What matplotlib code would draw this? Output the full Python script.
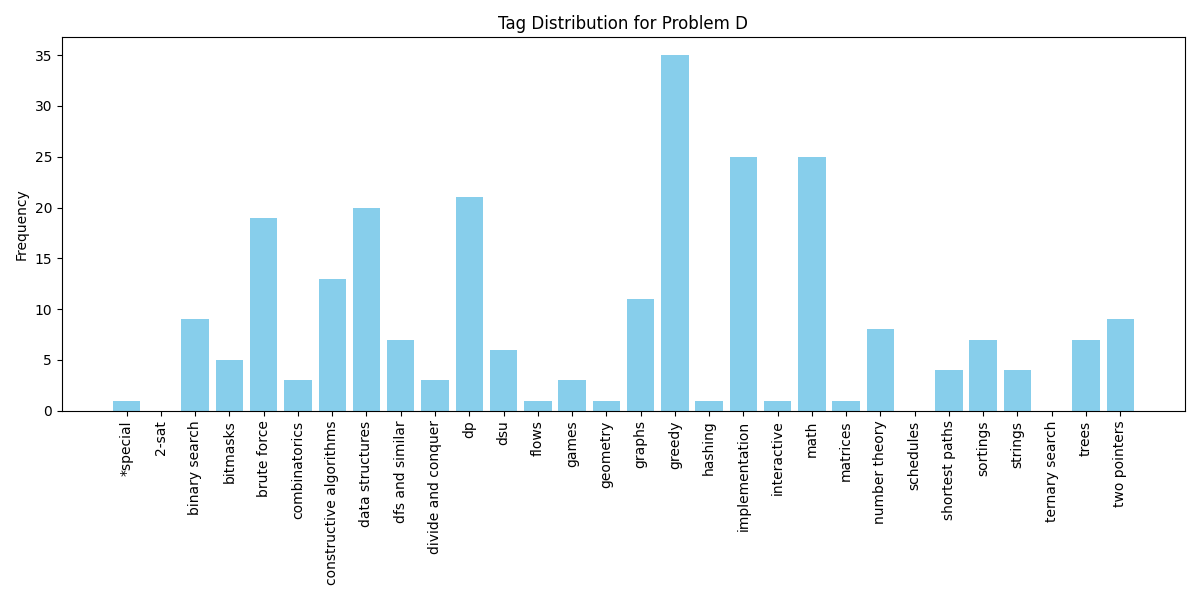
import matplotlib
matplotlib.use("Agg")
import matplotlib.pyplot as plt

tags = ["*special", "2-sat", "binary search", "bitmasks", "brute force",
        "combinatorics", "constructive algorithms", "data structures",
        "dfs and similar", "divide and conquer", "dp", "dsu", "flows", "games",
        "geometry", "graphs", "greedy", "hashing", "implementation",
        "interactive", "math", "matrices", "number theory", "schedules",
        "shortest paths", "sortings", "strings", "ternary search", "trees",
        "two pointers"]
counts = [1, 0, 9, 5, 19, 3, 13, 20, 7, 3, 21, 6, 1, 3, 1, 11, 35, 1, 25, 1,
          25, 1, 8, 0, 4, 7, 4, 0, 7, 9]

plt.figure(figsize=(12, 6), dpi=100)
plt.bar(tags, counts, color="skyblue")
plt.title("Tag Distribution for Problem D")
plt.ylabel("Frequency")
plt.xticks(rotation=90)
plt.tight_layout()
plt.savefig("out.png")
